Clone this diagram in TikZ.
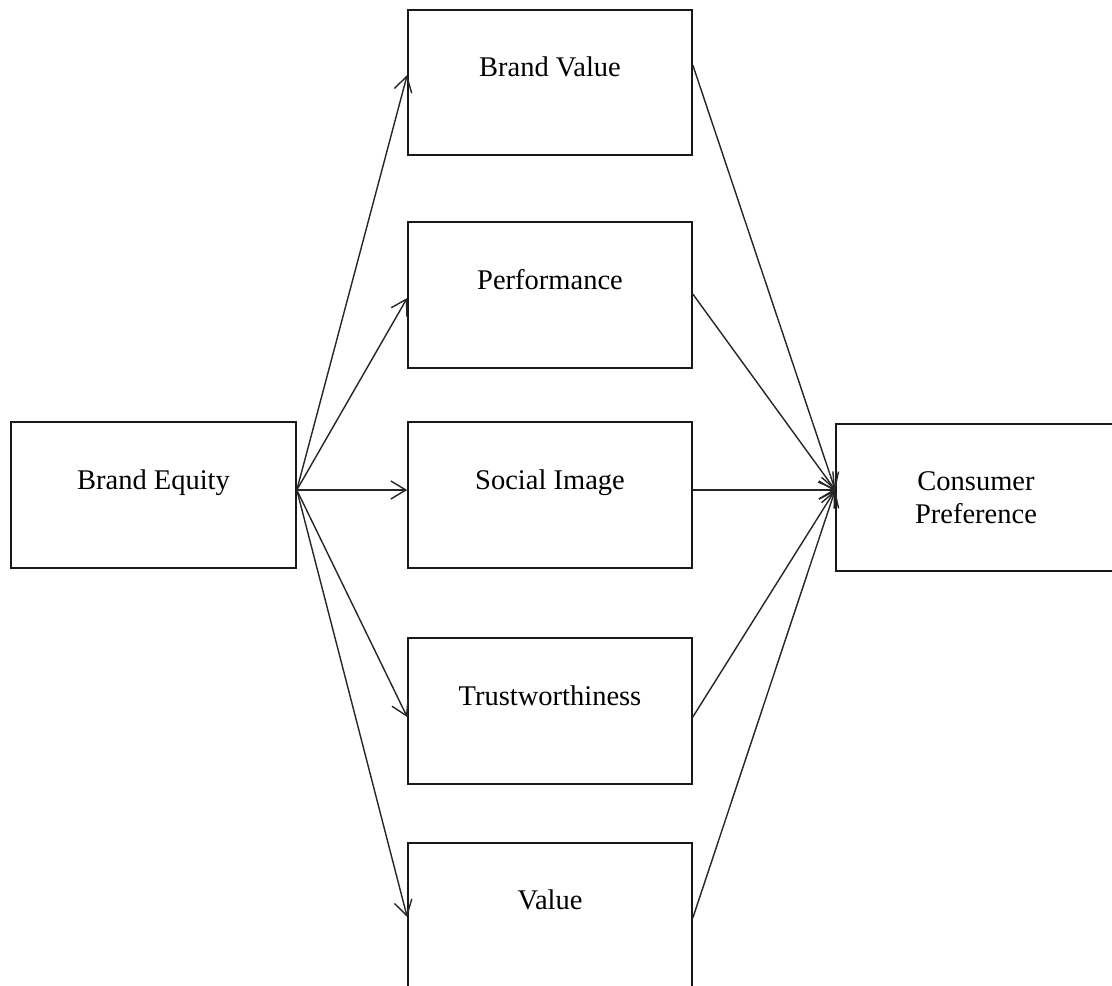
\documentclass[tikz,border=0pt]{standalone}
\usepackage{fontspec}
\setmainfont{Liberation Serif}
\usetikzlibrary{arrows.meta}
\tikzset{
  box/.style={draw=black!90, line width=1.6pt, minimum height=146pt, inner sep=0pt},
  midbox/.style={box, minimum width=284pt},
  caption/.style={font=\fontsize{28.5}{33}\selectfont, align=center, inner sep=0pt, anchor=base},
  link/.style={draw=black!85, line width=1.4pt,
    -{Straight Barb[length=15pt,width=18pt,line width=1.4pt]}},
}
\begin{document}
\begin{tikzpicture}[x=1pt,y=-1pt]
  \clip (0,0) rectangle (1112,986);
  \fill[white] (0,0) rectangle (1112,986);

  % source, mediators and outcome
  \node[box, minimum width=285pt] (be) at (153.5,495) {};
  \node[midbox, minimum height=145pt] (bv) at (550,82.5) {};
  \node[midbox] (pf) at (550,295) {};
  \node[midbox] (si) at (550,495) {};
  \node[midbox] (tw) at (550,711) {};
  \node[midbox, minimum height=145pt] (va) at (550,915.5) {};
  \node[box, minimum width=280pt, minimum height=147pt] (cp) at (976,497.5) {};

  % captions
  \node[caption] (be-t) at ([yshift=5.6pt]be.center) {Brand Equity};
  \node[caption] (bv-t) at ([yshift=5.6pt]bv.center) {Brand Value};
  \node[caption] (pf-t) at ([yshift=5.6pt]pf.center) {Performance};
  \node[caption] (si-t) at ([yshift=5.6pt]si.center) {Social Image};
  \node[caption] (tw-t) at ([yshift=5.6pt]tw.center) {Trustworthiness};
  \node[caption] (va-t) at ([yshift=5.6pt]va.center) {Value};
  \node[caption, anchor=center] (cp-t) at (cp.center) {Consumer\\Preference};

  % fan-out and fan-in points
  \coordinate (src) at ([yshift=5pt]be.east);
  \coordinate (dst) at ([yshift=7.5pt]cp.west);

  % brand equity to each mediator
  \draw[link] (src) -- ([yshift=7.5pt]bv.west);
  \draw[link] (src) -- ([yshift=-3pt]pf.west);
  \draw[link] (src) -- ([yshift=5pt]si.west);
  \draw[link] (src) -- ([yshift=-6pt]tw.west);
  \draw[link] (src) -- ([yshift=-1.5pt]va.west);

  % each mediator to consumer preference
  \draw[link] ([yshift=17.5pt]bv.east) -- (dst);
  \draw[link] ([yshift=1pt]pf.east) -- (dst);
  \draw[link] ([yshift=5pt]si.east) -- (dst);
  \draw[link] ([yshift=-6pt]tw.east) -- (dst);
  \draw[link] ([yshift=-2.5pt]va.east) -- (dst);
\end{tikzpicture}
\end{document}
